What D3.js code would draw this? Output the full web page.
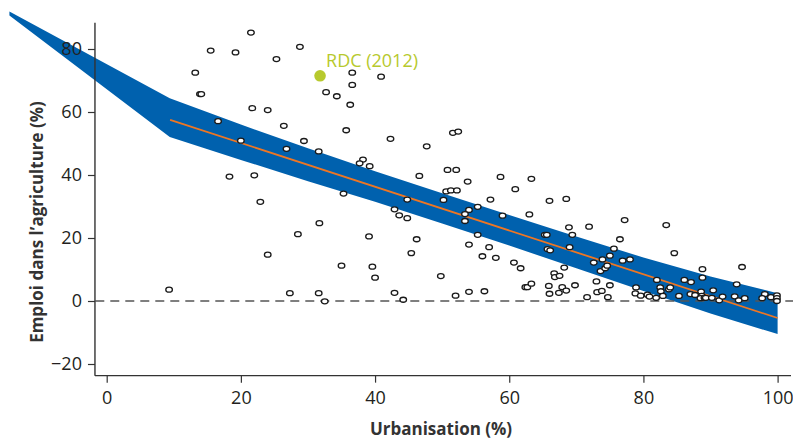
<!DOCTYPE html>
<html>
<head>
<meta charset="utf-8">
<script src="https://cdn.jsdelivr.net/npm/d3@7"></script>
<style>
  body { margin: 0; background: #fff; }
  svg { display: block; font-family: "Open Sans", sans-serif; }
</style>
</head>
<body>
<svg id="chart" width="793" height="442"></svg>
<script>
// Emploi agricole vs urbanisation, par pays

// --- data ---
const urbanisation = [
  15.5, 19.2, 21.5, 13.2, 13.9, 14.1, 21.7, 24.0, 16.6, 20.0,
  25.3, 28.8, 36.6, 40.9, 36.6, 32.7, 34.3, 36.3, 26.4, 35.7,
  42.3, 47.7, 29.4, 26.8, 31.6, 38.2, 37.7, 39.2, 18.3, 22.0,
  46.6, 51.6, 52.4, 50.8, 52.1, 22.9, 35.3, 31.7, 28.5, 39.1,
  24.0, 35.0, 9.3, 27.3, 31.6, 32.5, 58.7, 63.3, 53.8, 60.9,
  50.6, 51.3, 52.2, 44.8, 50.2, 57.2, 66.0, 68.5, 42.9, 43.6,
  44.8, 54.0, 53.4, 55.3, 53.4, 59.0, 63.0, 68.9, 71.9, 69.4,
  65.3, 65.6, 69.0, 65.7, 66.1, 46.2, 45.4, 55.3, 54.0, 57.0,
  56.0, 58.0, 60.7, 61.7, 39.6, 40.0, 49.8, 66.7, 66.8, 67.5,
  68.2, 69.8, 72.6, 73.6, 73.9, 74.3, 74.6, 75.0, 75.6, 76.5,
  73.0, 75.0, 62.4, 62.7, 63.3, 65.9, 66.0, 67.4, 67.9, 68.5,
  73.1, 73.8, 71.6, 74.7, 42.9, 44.2, 52.0, 54.0, 56.3, 77.2,
  83.4, 84.6, 76.9, 78.0, 78.9, 78.8, 79.6, 80.6, 80.9, 81.9,
  82.0, 82.5, 82.6, 82.9, 83.8, 84.0, 85.3, 86.1, 87.1, 88.8,
  88.8, 87.0, 87.7, 88.6, 88.7, 88.5, 89.1, 89.3, 90.4, 90.2,
  91.3, 91.8, 94.7, 93.9, 93.6, 94.2, 95.1, 98.1, 97.7, 99.0,
  99.9, 99.9, 99.9
];
const agriculture = [
  79.5, 78.9, 85.2, 72.5, 65.7, 65.7, 61.2, 60.6, 57.1, 50.9,
  76.8, 80.7, 72.5, 71.2, 68.6, 66.3, 65.0, 62.3, 55.6, 54.2,
  51.5, 49.1, 50.8, 48.3, 47.5, 44.9, 43.7, 42.8, 39.5, 39.9,
  39.7, 53.4, 53.8, 41.6, 41.6, 31.5, 34.1, 24.7, 21.2, 20.5,
  14.7, 11.2, 3.6, 2.5, 2.5, -0.1, 39.4, 38.8, 37.9, 35.5,
  34.8, 35.1, 35.1, 32.2, 32.1, 32.2, 31.8, 32.4, 29.1, 27.2,
  26.3, 28.9, 27.6, 29.9, 25.4, 27.1, 27.5, 23.4, 23.6, 21.0,
  21.0, 21.0, 17.1, 16.5, 16.1, 19.6, 15.2, 21.0, 17.9, 17.1,
  14.2, 13.7, 12.2, 10.4, 10.9, 7.4, 7.9, 8.8, 7.6, 8.0,
  10.6, 5.0, 12.2, 9.5, 13.2, 10.4, 11.2, 14.4, 16.6, 19.6,
  6.2, 5.0, 4.4, 4.4, 5.5, 4.8, 2.3, 2.6, 4.4, 3.3,
  2.8, 3.2, 1.2, 1.2, 2.6, 0.4, 1.7, 2.9, 3.1, 25.7,
  24.1, 15.2, 12.8, 13.2, 4.3, 2.4, 1.7, 2.0, 1.4, 1.0,
  6.7, 4.3, 3.1, 1.6, 3.7, 4.3, 1.6, 6.7, 6.0, 10.1,
  7.4, 2.2, 1.9, 3.0, 1.6, 0.9, 1.0, 1.0, 3.4, 1.0,
  0.2, 1.4, 10.8, 5.3, 1.5, 0.2, 0.9, 2.2, 0.9, 1.2,
  1.8, 0.9, 0.0
];

// highlighted country
const rdcLabel = "RDC (2012)";
const rdcUrb = 31.8;
const rdcAgr = 71.5;

// fitted line and its band
const fitX = [9.45, 100];
const fitY = [57.5, -5.4];
const bandX = [-14.5, 9.4, 20, 30, 40, 50, 60, 70, 80, 90, 100];
const bandUpper = [91.9, 64.4, 56.0, 48.5, 41.2, 34.2, 27.3, 20.5, 13.8, 7.8, 2.5];
const bandLower = [90.6, 52.1, 44.8, 38.0, 31.5, 24.6, 17.6, 10.4, 3.2, -4.0, -10.5];

const xTicks = [0, 20, 40, 60, 80, 100];
const yTicks = [-20, 0, 20, 40, 60, 80];

// --- layout ---
const svg = d3.select("#chart");
const x = d3.scaleLinear().domain([0, 100]).range([106.7, 777.6]);
const y = d3.scaleLinear().domain([-20, 80]).range([364, 49]);
const axisColor = "#333";

// band
const band = d3.area()
  .x((d, i) => x(bandX[i]))
  .y0((d, i) => y(bandLower[i]))
  .y1((d, i) => y(bandUpper[i]));
svg.append("path")
  .datum(bandX)
  .attr("d", band)
  .attr("fill", "#0061ae");

// zero line
svg.append("line")
  .attr("x1", x(-1.7)).attr("x2", 793)
  .attr("y1", y(0)).attr("y2", y(0))
  .attr("stroke", "#555")
  .attr("stroke-width", 1.5)
  .attr("stroke-dasharray", "9,6");

// fitted line
svg.append("path")
  .datum(fitX)
  .attr("fill", "none")
  .attr("stroke", "#ee7623")
  .attr("stroke-width", 1.8)
  .attr("d", d3.line().x((d, i) => x(fitX[i])).y((d, i) => y(fitY[i])));

// axes
const xAxis = svg.append("g")
  .attr("transform", `translate(0,${y(-23.7)})`)
  .call(d3.axisBottom(x).tickValues(xTicks).tickSize(7).tickPadding(9).tickSizeOuter(0));
xAxis.select(".domain").remove();
xAxis.append("line")
  .attr("x1", x(-1.75)).attr("x2", 791)
  .attr("stroke", axisColor).attr("stroke-width", 1.4);

const yAxis = svg.append("g")
  .attr("transform", `translate(${x(-1.75)},0)`)
  .call(d3.axisLeft(y).tickValues(yTicks).tickSize(7).tickPadding(6)
    .tickFormat(d => d < 0 ? "\u2212" + Math.abs(d) : d));
yAxis.select(".domain").remove();
yAxis.append("line")
  .attr("y1", y(88.3)).attr("y2", y(-23.7))
  .attr("stroke", axisColor).attr("stroke-width", 1.4);

svg.selectAll(".tick line").attr("stroke", axisColor).attr("stroke-width", 1.2);
svg.selectAll(".tick text")
  .attr("fill", "#231f20")
  .style("font-size", "18px")
  .style("font-family", "'Open Sans', sans-serif");

// axis titles
svg.append("text")
  .attr("x", 441).attr("y", 435)
  .attr("text-anchor", "middle")
  .attr("fill", "#333")
  .style("font-size", "17px")
  .style("font-weight", "bold")
  .text("Urbanisation (%)");
svg.append("text")
  .attr("transform", "translate(43,222) rotate(-90)")
  .attr("text-anchor", "middle")
  .attr("fill", "#333")
  .style("font-size", "17px")
  .style("font-weight", "bold")
  .text("Emploi dans l\u2019agriculture (%)");

// points
svg.append("g")
  .selectAll("ellipse")
  .data(urbanisation)
  .join("ellipse")
  .attr("cx", d => x(d))
  .attr("cy", (d, i) => y(agriculture[i]))
  .attr("rx", 3.3)
  .attr("ry", 2.5)
  .attr("fill", "#fff")
  .attr("stroke", "#1a1a1a")
  .attr("stroke-width", 1.3);

// highlighted point
svg.append("circle")
  .attr("cx", x(rdcUrb)).attr("cy", y(rdcAgr))
  .attr("r", 5.8)
  .attr("fill", "#b7c92d");
svg.append("text")
  .attr("x", x(rdcUrb) + 6).attr("y", y(rdcAgr) - 9)
  .attr("fill", "#b7c92d")
  .style("font-size", "18px")
  .text(rdcLabel);
</script>
</body>
</html>
